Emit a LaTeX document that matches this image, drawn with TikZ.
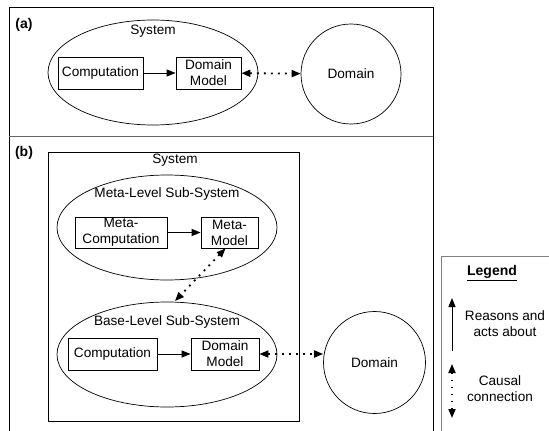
\documentclass[tikz,border=0pt]{standalone}
\usepackage{fontspec}
\setmainfont{Liberation Sans}
\usetikzlibrary{shapes.geometric,arrows.meta}
\begin{document}
\begin{tikzpicture}[x=1pt,y=-1pt,
  every node/.style={font=\fontsize{13.6}{16}\selectfont, inner sep=0pt},
  ell/.style={draw, ellipse, line width=0.7pt},
  circ/.style={draw, circle, line width=0.7pt},
  box/.style={draw, rectangle, line width=0.8pt, align=center},
  txt/.style={align=center},
  bold/.style={font=\fontsize{14}{16}\selectfont\bfseries},
  solidarr/.style={line width=1pt, -{Triangle[length=9pt,width=7pt]}},
  causal/.style={line width=1.8pt, dash pattern=on 1.8pt off 5.2pt, {Triangle[length=9pt,width=7pt]}-{Triangle[length=9pt,width=7pt]}},
]
\useasboundingbox (0,0) rectangle (549,431);
\clip (0,0) rectangle (549,431);
\fill[white] (0,0) rectangle (549,431);
% outer frame
\draw[line width=0.9pt] (9,445) -- (9,7) -- (433,7) -- (433,445);
\draw[line width=1pt, gray!80!black] (9,136) -- (433,136);
% legend box
\draw[line width=1pt, gray] (441,445) -- (441,256) -- (560,256);

% ---------- (a) ----------
\node[bold] (la) at (24,25) {(a)};
\node[ell, minimum width=210pt, minimum height=105pt] (sysA) at (153,72.5) {};
\node[txt] (sysAt) at (153,31) {System};
\node[box, minimum width=85pt, minimum height=32pt] (compA) at (100.5,73) {Computation};
\node[box, minimum width=65pt, minimum height=32pt] (dmA) at (208.5,73) {Domain\\Model};
\node[circ, minimum size=100pt] (domA) at (351,74) {Domain};
\draw[solidarr] (compA) -- (dmA);
\draw[causal] (dmA) -- (domA);

% ---------- (b) ----------
\node[bold] (lb) at (24,153) {(b)};
\node[draw, rectangle, line width=0.9pt, minimum width=251pt, minimum height=269pt] (sysB) at (173.5,286.5) {};
\node[txt] (sysBt) at (175,160) {System};
\node[ell, minimum width=220pt, minimum height=105pt] (meta) at (167,227.5) {};
\node[txt] (metat) at (167,194) {Meta-Level Sub-System};
\node[box, minimum width=92pt, minimum height=31pt] (mcomp) at (121,232.5) {Meta-\\Computation};
\node[box, minimum width=57pt, minimum height=31pt] (mmodel) at (229.5,232.5) {Meta-\\Model};
\draw[solidarr] (mcomp) -- (mmodel);

\node[ell, minimum width=220pt, minimum height=105pt] (base) at (167,354.5) {};
\node[txt] (baset) at (167,322) {Base-Level Sub-System};
\node[box, minimum width=89pt, minimum height=32pt] (compB) at (112.5,354) {Computation};
\node[box, minimum width=68pt, minimum height=32pt] (dmB) at (225,354) {Domain\\Model};
\node[circ, minimum size=102pt] (domB) at (374.5,362.5) {Domain};
\draw[solidarr] (compB) -- (dmB);
\draw[causal] (dmB.east) -- (domB.west |- dmB.east);
\coordinate (bt) at (175,301);
\draw[causal] (mmodel.south) ++(-4,0) coordinate (mmb) (mmb) -- (bt);

% ---------- legend ----------
\node[bold] (leg) at (492,273) {\underline{Legend}};
\coordinate (l1a) at (452,351);
\coordinate (l1b) at (452,298);
\draw[solidarr] (l1a) -- (l1b);
\node[txt] (l1t) at (505,323.5) {Reasons and\\acts about};
\coordinate (l2a) at (452,364);
\coordinate (l2b) at (452,418);
\draw[causal] (l2a) -- (l2b);
\node[txt] (l2t) at (500,389) {Causal\\connection};
\end{tikzpicture}
\end{document}
